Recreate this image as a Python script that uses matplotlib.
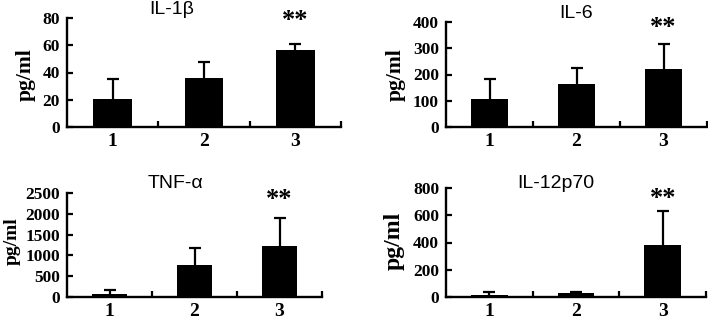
import matplotlib
matplotlib.use('Agg')
import matplotlib.pyplot as plt
import numpy as np

# groups on the x axis
groups = ['1', '2', '3']

# cytokine levels (pg/ml), mean and upper SD
il1b_mean = [20.5, 35.7, 56.5]
il1b_sd = [14.7, 12.2, 4.4]
il6_mean = [105, 164, 221]
il6_sd = [78, 62, 94]
tnf_mean = [81, 766, 1234]
tnf_sd = [96, 403, 677]
il12_mean = [15, 28, 378]
il12_sd = [23, 9, 254]

titles = ['IL-1\u03b2', 'IL-6', 'TNF-\u03b1', 'IL-12p70']
ymax = [80, 400, 2500, 800]
ystep = [20, 100, 500, 200]
star_y = [78, 380, 2350, 720]

W, H = 708, 320
SERIF = 'Liberation Serif'
SANS = 'Liberation Sans'

fig = plt.figure(figsize=(W / 100, H / 100), dpi=100)

# axes boxes in pixels: left, top, right, bottom
boxes = [(67, 18, 341, 127), (446, 22, 707, 127),
         (67, 193, 322, 297), (446, 188, 706, 297)]
# title centre x and baseline y, pixels
title_pos = [(172, 14.5), (576, 18.5), (175, 188.5), (556, 187.5)]
ylab_pos = [(26, 75, 15.5), (396, 75, 15.5), (12, 241, 14), (394, 241, 17)]

means = [il1b_mean, il6_mean, tnf_mean, il12_mean]
sds = [il1b_sd, il6_sd, tnf_sd, il12_sd]

x = np.arange(len(groups))
for i in range(4):
    l, t, r, b = boxes[i]
    ax = fig.add_axes([l / W, 1 - b / H, (r - l) / W, (b - t) / H])
    ax.bar(x, means[i], width=0.42, color='black', zorder=3)
    eb = ax.errorbar(x, means[i], yerr=[np.zeros(3), sds[i]], fmt='none',
                     ecolor='black', elinewidth=1.6, capsize=4.5, capthick=1.6,
                     zorder=2)
    eb[1][0].set_visible(False)
    ax.set_xlim(-0.5, 2.5)
    ax.set_ylim(0, ymax[i])
    for s in ['top', 'right']:
        ax.spines[s].set_visible(False)
    for s in ['left', 'bottom']:
        ax.spines[s].set_linewidth(1.7)
    ax.set_yticks(np.arange(0, ymax[i] + 1, ystep[i]))
    ax.set_xticks([0.5, 1.5, 2.5])
    ax.set_xticklabels([])
    ax.set_xticks(x, minor=True)
    ax.set_xticklabels(groups, minor=True)
    ax.tick_params(axis='x', which='major', direction='in', length=4, width=1.6)
    ax.tick_params(axis='x', which='minor', length=0, pad=4)
    ax.tick_params(axis='y', direction='in', length=4, width=1.6, pad=5)
    for lab in ax.get_yticklabels():
        lab.set_fontfamily(SERIF)
        lab.set_fontweight('bold')
        lab.set_fontsize(12.5)
    for lab in ax.get_xticklabels(minor=True):
        lab.set_fontfamily(SERIF)
        lab.set_fontweight('bold')
        lab.set_fontsize(14)
    ax.text(2, star_y[i], '**', ha='center', va='center', fontfamily=SERIF,
            fontweight='bold', fontsize=19)
    tx, ty = title_pos[i]
    fig.text(tx / W, 1 - ty / H, titles[i], ha='center', va='baseline',
             fontfamily=SANS, fontsize=14)
    lx, ly, ls = ylab_pos[i]
    fig.text(lx / W, 1 - ly / H, 'pg/ml', ha='center', va='center',
             rotation=90, fontfamily=SERIF, fontweight='bold', fontsize=ls)

fig.savefig('out.png', dpi=100)
